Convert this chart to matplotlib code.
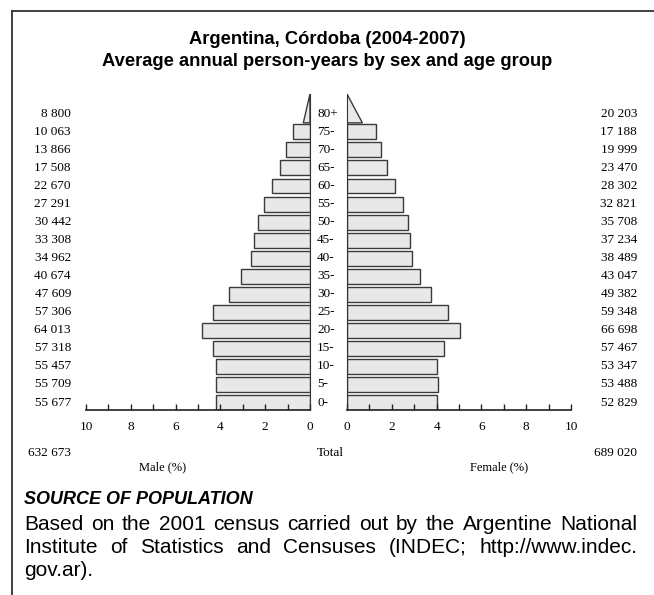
import matplotlib
matplotlib.use("Agg")
import matplotlib.pyplot as plt
import matplotlib.transforms as mtransforms
from matplotlib.patches import Polygon
import numpy as np

ages = ["0-", "5-", "10-", "15-", "20-", "25-", "30-", "35-", "40-",
        "45-", "50-", "55-", "60-", "65-", "70-", "75-", "80+"]
male = [55677, 55709, 55457, 57318, 64013, 57306, 47609, 40674, 34962,
        33308, 30442, 27291, 22670, 17508, 13866, 10063, 8800]
female = [52829, 53488, 53347, 57467, 66698, 59348, 49382, 43047, 38489,
          37234, 35708, 32821, 28302, 23470, 19999, 17188, 20203]
male_total = 632673
female_total = 689020

W, H = 654, 595
total = male_total + female_total
male_pct = np.array(male) / total * 100
female_pct = np.array(female) / total * 100

serif = "Liberation Serif"
sans = "Liberation Sans"
fs = 9.5
face = "#e8e8e8"
edge = "#3a3a3a"

fig = plt.figure(figsize=(W / 100, H / 100), dpi=100)

def fx(px):
    return px / W

def fy(py):
    return 1 - py / H

def space(n):
    return f"{n:,}".replace(",", " ")

bottom = fy(410)
top = fy(94)
axL = fig.add_axes([fx(86), bottom, fx(310) - fx(86), top - bottom])
axR = fig.add_axes([fx(347), bottom, fx(571) - fx(347), top - bottom])

y = np.arange(len(ages))
n = len(ages) - 1
for ax, vals in [(axL, male_pct), (axR, female_pct)]:
    ax.barh(y[:n], vals[:n], height=0.83, color=face, edgecolor=edge, linewidth=1)
    # open-ended group drawn as a triangle
    w = vals[n] * 0.45
    tri = Polygon([[0, n - 0.5], [w, n - 0.5], [0, n + 1.1]], closed=True,
                  facecolor=face, edgecolor=edge, linewidth=1)
    ax.add_patch(tri)
    ax.set_ylim(-0.415, 17.1)
    ax.set_xlim(0, 10)
    ax.set_yticks([])
    ax.set_xticks(np.arange(0, 11, 2))
    ax.set_xticks(np.arange(1, 10, 2), minor=True)
    ax.tick_params(axis="x", which="both", direction="in", length=4,
                   width=1, color="#222222", labelsize=fs, pad=8)
    for lab in ax.get_xticklabels():
        lab.set_fontfamily(serif)
    for s in ["top", "left", "right"]:
        ax.spines[s].set_visible(False)
    ax.spines["bottom"].set_color("#222222")
    ax.spines["bottom"].set_linewidth(1.2)
    ax.patch.set_alpha(0)

axL.invert_xaxis()
axL.spines["right"].set_visible(True)
axL.spines["right"].set_color("#333333")
axR.spines["left"].set_visible(True)
axR.spines["left"].set_color("#333333")

trans = mtransforms.blended_transform_factory(fig.transFigure, axL.transData)
for i in range(len(ages)):
    fig.text(fx(317), i, ages[i], transform=trans, ha="left", va="center",
             fontfamily=serif, fontsize=fs)
    fig.text(fx(71), i, space(male[i]), transform=trans,
             ha="right", va="center", fontfamily=serif, fontsize=fs)
    fig.text(fx(637), i, space(female[i]), transform=trans,
             ha="right", va="center", fontfamily=serif, fontsize=fs)

fig.text(fx(71), fy(453), space(male_total), ha="right",
         va="center", fontfamily=serif, fontsize=fs)
fig.text(fx(637), fy(453), space(female_total), ha="right",
         va="center", fontfamily=serif, fontsize=fs)
fig.text(fx(330), fy(453), "Total", ha="center", va="center",
         fontfamily=serif, fontsize=fs)
fig.text(fx(163), fy(467), "Male (%)", ha="center", va="center",
         fontfamily=serif, fontsize=fs - 0.5)
fig.text(fx(499), fy(467), "Female (%)", ha="center", va="center",
         fontfamily=serif, fontsize=fs - 0.5)

fig.text(fx(327), fy(40), "Argentina, Córdoba (2004-2007)", ha="center",
         va="center", fontfamily=sans, fontweight="bold", fontsize=13.2)
fig.text(fx(327), fy(62), "Average annual person-years by sex and age group",
         ha="center", va="center", fontfamily=sans, fontweight="bold",
         fontsize=13.2)

fig.text(fx(24), fy(500), "SOURCE OF POPULATION", ha="left", va="center",
         fontfamily=sans, fontweight="bold", fontstyle="italic", fontsize=13)

# body text, justified between x=24 and x=637 except the last line
src = ["Based on the 2001 census carried out by the Argentine National",
       "Institute of Statistics and Censuses (INDEC; http://www.indec.",
       "gov.ar)."]
body_fs = 15
renderer = fig.canvas.get_renderer()
for k, line in enumerate(src):
    yy = fy(525 + 22.5 * k)
    if k == len(src) - 1:
        fig.text(fx(24), yy, line, ha="left", va="center",
                 fontfamily=sans, fontsize=body_fs)
        continue
    words = line.split(" ")
    arts = [fig.text(0, yy, wd, ha="left", va="center", fontfamily=sans,
                     fontsize=body_fs) for wd in words]
    widths = [a.get_window_extent(renderer).width for a in arts]
    gap = (637 - 24 - sum(widths)) / (len(words) - 1)
    xpos = 24
    for a, wdt in zip(arts, widths):
        a.set_x(fx(xpos))
        xpos += wdt + gap

# frame lines
fig.add_artist(plt.Line2D([fx(12), fx(12)], [fy(11), 0], color="#333333",
                          linewidth=1.3, transform=fig.transFigure))
fig.add_artist(plt.Line2D([fx(12), 1], [fy(11), fy(11)], color="#333333",
                          linewidth=1.3, transform=fig.transFigure))

fig.savefig("out.png", dpi=100)
